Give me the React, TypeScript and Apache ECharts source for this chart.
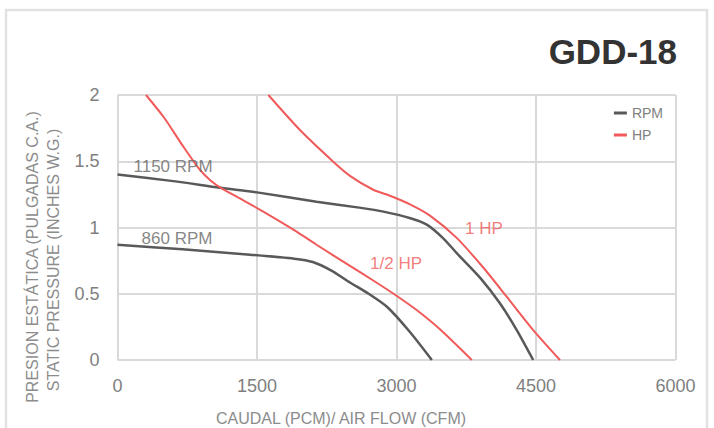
import React, { useEffect, useRef } from "react";
import * as echarts from "echarts";

const xTicks = [0, 1500, 3000, 4500, 6000];
const yTicks = [0, 0.5, 1, 1.5, 2];

const rpm1150: number[][] = [
  [0, 1.4], [600, 1.35], [1100, 1.3], [1500, 1.265], [2140, 1.195], [2600, 1.15], [2860, 1.12],
  [3150, 1.07], [3330, 1.02], [3500, 0.92], [3650, 0.805], [3900, 0.62], [4110, 0.43], [4290, 0.23], [4470, 0],
];
const rpm860: number[][] = [
  [0, 0.87], [700, 0.835], [1425, 0.795], [1900, 0.765], [2100, 0.74], [2300, 0.675], [2500, 0.585],
  [2700, 0.5], [2900, 0.4], [3140, 0.215], [3380, 0],
];
const hpHalf: number[][] = [
  [306, 2.0], [500, 1.83], [708, 1.61], [887, 1.434], [1000, 1.355], [1120, 1.295], [1353, 1.205],
  [1604, 1.105], [1900, 0.98], [2140, 0.87], [2500, 0.71], [2750, 0.6], [3000, 0.485], [3220, 0.375],
  [3470, 0.23], [3810, 0],
];
const hpOne: number[][] = [
  [1622, 2.0], [1962, 1.736], [2320, 1.497], [2500, 1.39], [2750, 1.285], [2930, 1.24], [3145, 1.175],
  [3360, 1.09], [3650, 0.92], [3930, 0.7], [4185, 0.478], [4470, 0.226], [4758, 0],
];

const curveLabels = ["1150 RPM", "860 RPM", "1/2 HP", "1 HP"];
const labelX = [597, 640, 2995, 3941];
const labelY = [1.464, 0.92, 0.732, 0.989];
const labelKind = ["RPM", "RPM", "HP", "HP"];

const legendNames = ["RPM", "HP"];
const title = "GDD-18";
const yTitle1 = "PRESION ESTÁTICA (PULGADAS C.A.)";
const yTitle2 = "STATIC PRESSURE (INCHES W.G.)";
const xTitle = "CAUDAL (PCM)/ AIR FLOW (CFM)";

const GRAY = "#595959";
const RED = "#f05a5a";
const FONT = "Liberation Sans, Arial, sans-serif";

export default function App() {
  const ref = useRef<HTMLDivElement>(null);
  useEffect(() => {
    if (!ref.current) return;
    const chart = echarts.init(ref.current, null, { renderer: "svg" });
    const lineSeries = (name: string, data: number[][], color: string, width: number) => ({
      type: "line",
      name,
      data,
      smooth: 0.25,
      showSymbol: false,
      symbol: "none",
      lineStyle: { color, width },
      itemStyle: { color },
      z: name === "HP" ? 3 : 2,
    });
    chart.setOption({
      animation: false,
      textStyle: { fontFamily: FONT },
      grid: { left: 117.5, right: 38.5, top: 95, bottom: 68, containLabel: false },
      legend: {
        data: legendNames,
        orient: "vertical",
        right: 46,
        top: 101,
        icon: "rect",
        itemWidth: 13,
        itemHeight: 3,
        itemGap: 8,
        textStyle: { color: "#808080", fontSize: 14, fontFamily: FONT },
      },
      xAxis: {
        type: "value",
        min: xTicks[0],
        max: xTicks[xTicks.length - 1],
        interval: xTicks[1] - xTicks[0],
        axisLine: { show: false },
        axisTick: { show: false },
        axisLabel: {
          margin: 17,
          fontSize: 18,
          color: "#7f7f7f",
          fontFamily: FONT,
          formatter: (v: number) => String(v),
        },
        splitLine: { show: true, lineStyle: { color: "#d9d9d9", width: 2 } },
      },
      yAxis: {
        type: "value",
        min: yTicks[0],
        max: yTicks[yTicks.length - 1],
        interval: yTicks[1] - yTicks[0],
        axisLine: { show: false },
        axisTick: { show: false },
        axisLabel: {
          margin: 18,
          fontSize: 18,
          color: "#7f7f7f",
          fontFamily: FONT,
          formatter: (v: number) => String(v),
        },
        splitLine: { show: true, lineStyle: { color: "#d9d9d9", width: 2 } },
      },
      graphic: [
        {
          type: "rect",
          shape: { x: 6, y: 10, width: 701, height: 440 },
          style: { fill: "none", stroke: "#e2e2e2", lineWidth: 2.5 },
          silent: true,
        },
        {
          type: "text",
          x: 677,
          y: 51,
          style: {
            text: title,
            fill: "#333333",
            font: "bold 35px Liberation Sans, Arial, sans-serif",
            textAlign: "right",
            textVerticalAlign: "middle",
          },
        },
        {
          type: "text",
          x: 32,
          y: 257,
          rotation: Math.PI / 2,
          style: {
            text: yTitle1,
            fill: "#8c8c8c",
            font: "16px Liberation Sans, Arial, sans-serif",
            textAlign: "center",
            textVerticalAlign: "middle",
          },
        },
        {
          type: "text",
          x: 53,
          y: 260,
          rotation: Math.PI / 2,
          style: {
            text: yTitle2,
            fill: "#8c8c8c",
            font: "16px Liberation Sans, Arial, sans-serif",
            textAlign: "center",
            textVerticalAlign: "middle",
          },
        },
        {
          type: "text",
          x: 341,
          y: 418,
          style: {
            text: xTitle,
            fill: "#8c8c8c",
            font: "16px Liberation Sans, Arial, sans-serif",
            textAlign: "center",
            textVerticalAlign: "middle",
          },
        },
      ],
      series: [
        lineSeries("RPM", rpm1150, GRAY, 2.5),
        lineSeries("RPM", rpm860, GRAY, 2.5),
        lineSeries("HP", hpHalf, RED, 2),
        lineSeries("HP", hpOne, RED, 2),
        {
          type: "scatter",
          name: "labels",
          symbolSize: 0,
          silent: true,
          z: 5,
          data: curveLabels.map((t, i) => ({
            value: [labelX[i], labelY[i]],
            name: t,
            label: {
              show: true,
              position: "inside",
              formatter: t,
              fontSize: 17,
              fontFamily: FONT,
              color: labelKind[i] === "HP" ? RED : "#666666",
            },
          })),
        },
      ],
    });
    return () => chart.dispose();
  }, []);
  return (
    <div
      ref={ref}
      style={{ position: "fixed", left: 0, top: 0, width: 714, height: 428, background: "#ffffff" }}
    />
  );
}
